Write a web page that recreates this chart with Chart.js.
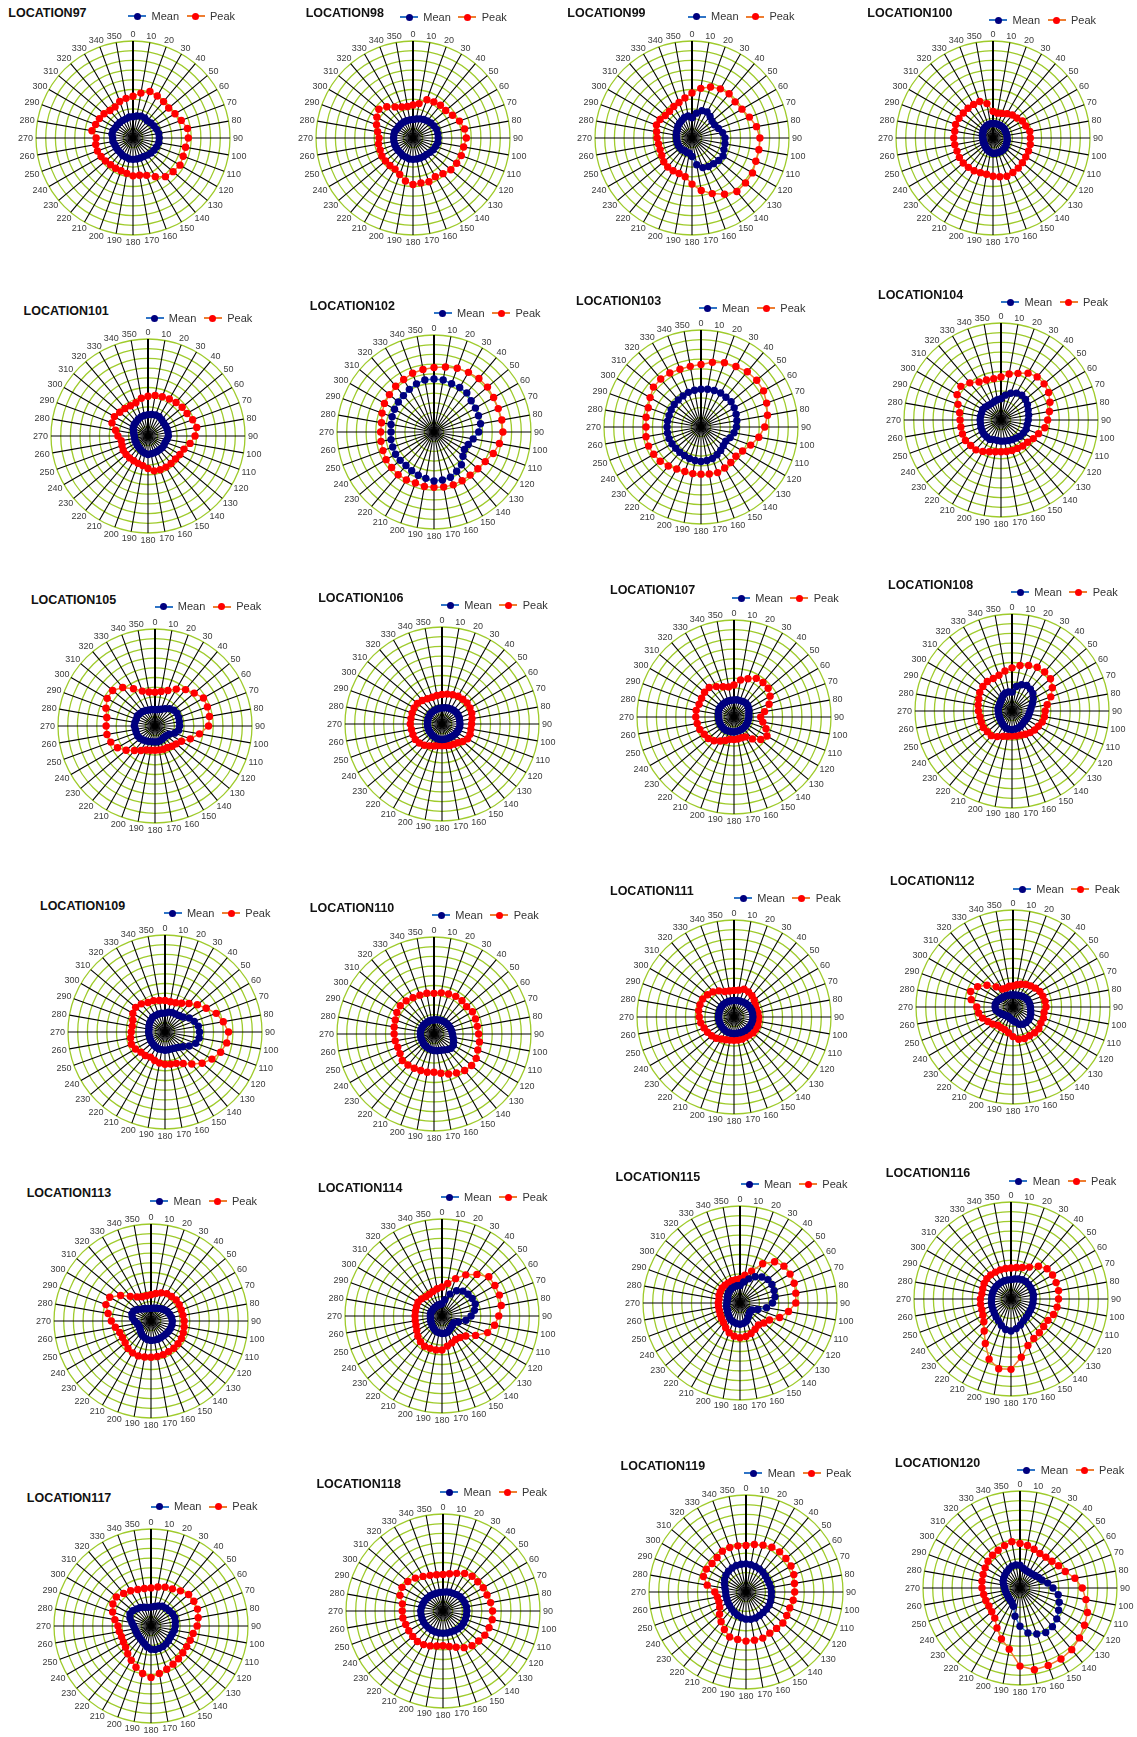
<!DOCTYPE html>
<html lang="en">
<head>
<meta charset="utf-8">
<title>Directional roses, LOCATION97 to LOCATION120</title>
<script src="https://cdn.jsdelivr.net/npm/chart.js@4.4.1/dist/chart.umd.min.js"></script>
<style>
  html, body { margin: 0; padding: 0; background: #ffffff; }
  body { position: relative; width: 1137px; height: 1737px; overflow: hidden;
         font-family: "Liberation Sans", Arial, sans-serif; }
  canvas.rose { position: absolute; }
  .title { position: absolute; font-weight: bold; font-size: 12.5px; line-height: 12.5px;
           color: #111; white-space: nowrap; }
  .legend { position: absolute; display: flex; align-items: center; font-size: 11px;
            line-height: 11px; color: #333; white-space: nowrap; }
  .legend .mk { position: relative; width: 18px; height: 7px; margin-right: 5.3px; }
  .legend .mk::before { content: ""; position: absolute; left: 0; right: 0; top: 2.5px;
                        height: 2px; background: var(--line); }
  .legend .mk::after { content: ""; position: absolute; left: 5.5px; top: 0; width: 7px;
                       height: 7px; border-radius: 50%; background: var(--dot); }
  .legend .gap { width: 7.6px; }
</style>
</head>
<body>
<script>
// Direction tick labels (degrees)
const directions = ['0','10','20','30','40','50','60','70','80','90','100','110','120','130','140','150','160','170',
                    '180','190','200','210','220','230','240','250','260','270','280','290','300','310','320','330','340','350'];

const locationNames = ['LOCATION97','LOCATION98','LOCATION99','LOCATION100','LOCATION101','LOCATION102',
                       'LOCATION103','LOCATION104','LOCATION105','LOCATION106','LOCATION107','LOCATION108',
                       'LOCATION109','LOCATION110','LOCATION111','LOCATION112','LOCATION113','LOCATION114',
                       'LOCATION115','LOCATION116','LOCATION117','LOCATION118','LOCATION119','LOCATION120'];

// Mean and peak values per direction, 0..350 degrees in 10 degree steps
const meanL97  = [2.2,2.3,2.4,2.4,2.3,2.4,2.5,2.6,2.7,2.7,2.7,2.6,2.5,2.4,2.3,2.2,2.2,2.2,2.2,2.2,2.1,2.1,2.0,2.0,2.0,2.0,2.1,2.1,2.2,2.2,2.1,2.1,2.1,2.1,2.1,2.2];
const peakL97  = [4.3,4.7,5.1,5.0,4.9,4.8,5.0,5.3,5.7,5.7,5.5,5.5,5.6,5.4,5.2,4.6,4.1,3.9,3.9,3.7,3.6,3.6,3.6,3.7,3.8,3.9,3.9,3.8,4.3,4.1,4.0,3.9,3.7,3.7,4.0,4.15];
const meanL98  = [1.9,2.0,2.1,2.2,2.3,2.4,2.5,2.6,2.6,2.6,2.6,2.5,2.4,2.3,2.2,2.2,2.2,2.2,2.2,2.2,2.1,2.1,2.0,2.0,2.0,2.0,2.0,2.0,2.0,2.0,1.9,1.9,1.9,1.9,1.9,1.9];
const peakL98  = [3.4,3.6,4.2,4.3,4.4,4.4,4.7,5.1,5.4,5.5,5.3,5.3,5.2,5.1,4.8,4.6,4.8,4.7,4.8,4.5,4.0,3.7,3.7,3.7,3.7,3.6,3.6,3.5,3.7,4.0,4.3,4.6,4.2,3.7,3.4,3.3];
const meanL99  = [2.1,2.6,3.0,3.1,2.9,2.7,2.7,2.9,3.2,3.4,3.45,3.5,3.7,3.6,3.45,3.4,3.25,2.8,1.9,1.6,1.6,1.5,1.6,1.6,1.6,1.6,1.6,1.6,1.65,1.7,1.75,1.9,2.0,2.1,2.25,2.3];
const peakL99  = [4.65,5.2,5.6,5.85,5.95,5.8,5.95,6.3,6.75,7.0,7.0,7.0,7.2,7.2,7.2,6.7,6.1,5.5,4.75,4.05,3.9,3.9,3.9,3.8,3.6,3.5,3.5,3.6,3.7,3.9,3.8,3.6,3.6,3.75,3.9,4.2];
const meanL100 = [1.5,1.5,1.5,1.5,1.5,1.5,1.45,1.45,1.45,1.45,1.5,1.5,1.55,1.6,1.6,1.6,1.6,1.6,1.6,1.5,1.4,1.3,1.2,1.1,1.1,1.05,1.05,1.05,1.1,1.15,1.2,1.3,1.35,1.4,1.45,1.5];
const peakL100 = [2.75,2.6,2.7,2.9,3.1,3.2,3.5,3.6,3.85,3.85,3.9,3.9,3.9,3.95,4.05,4.1,4.2,4.05,3.95,3.8,3.8,3.9,3.95,4.0,4.0,3.95,4.0,4.05,4.0,4.1,4.05,4.0,4.0,4.0,4.0,3.6];
const meanL101 = [2.2,2.25,2.3,2.3,2.2,2.1,2.1,2.1,2.1,2.1,2.0,1.9,1.9,1.9,1.85,1.85,1.85,1.85,1.9,1.8,1.7,1.6,1.5,1.45,1.4,1.4,1.4,1.4,1.5,1.6,1.75,1.85,1.9,2.0,2.1,2.15];
const peakL101 = [4.1,4.25,4.3,4.4,4.5,4.6,4.65,4.9,5.1,4.85,4.4,3.95,3.8,3.7,3.7,3.7,3.7,3.65,3.35,3.1,3.0,2.95,2.95,2.95,2.95,2.85,2.8,3.1,3.4,3.95,4.0,3.8,3.7,3.6,3.65,3.95];
const meanL102 = [5.46,5.45,5.3,5.3,5.26,5.0,4.93,4.88,4.87,4.61,4.1,3.76,3.62,3.9,4.4,4.67,4.96,5.02,5.05,4.85,4.74,4.6,4.5,4.55,4.58,4.53,4.5,4.43,4.5,4.6,4.7,4.8,4.9,5.08,5.28,5.45];
const peakL102 = [6.65,6.8,7.0,7.1,7.2,7.2,7.1,7.05,7.1,7.1,6.85,6.5,6.1,5.9,5.8,5.8,5.8,5.75,5.7,5.7,5.6,5.7,5.75,5.7,5.7,5.6,5.55,5.5,5.5,5.7,5.9,6.0,6.15,6.25,6.45,6.55];
const meanL103 = [3.9,3.95,4.0,4.05,4.0,4.05,3.95,3.85,3.75,3.65,3.45,3.2,2.95,3.0,3.15,3.3,3.45,3.5,3.55,3.5,3.45,3.4,3.4,3.4,3.45,3.5,3.5,3.5,3.5,3.5,3.55,3.6,3.65,3.7,3.8,3.85];
const peakL103 = [6.44,6.77,7.06,7.2,7.43,7.5,7.45,7.2,6.96,6.57,6.05,5.45,4.95,4.7,4.78,4.88,5.0,4.92,4.86,4.88,4.88,5.0,5.25,5.49,5.63,5.75,5.76,5.67,5.75,5.79,6.06,6.4,6.46,6.43,6.33,6.35];
const meanL104 = [2.2,2.6,2.93,3.2,3.33,3.3,3.15,2.98,2.9,2.81,2.74,2.76,2.68,2.6,2.43,2.34,2.26,2.2,2.18,2.15,2.15,2.31,2.29,2.29,2.25,2.2,2.15,2.15,2.15,2.13,2.18,2.1,1.98,1.95,2.03,2.12];
const peakL104 = [4.44,4.82,5.12,5.58,5.8,5.8,5.67,5.37,5.07,4.81,4.59,4.12,3.84,3.58,3.49,3.38,3.35,3.3,3.28,3.33,3.49,3.74,4.02,4.08,4.23,4.23,4.2,4.22,4.33,4.72,5.23,5.4,5.0,4.52,4.39,4.33];
const meanL105 = [1.68,1.72,1.84,2.06,2.33,2.54,2.62,2.6,2.55,2.54,2.47,2.16,1.69,1.54,1.5,1.54,1.6,1.65,1.64,1.65,1.71,1.79,1.89,2.0,2.05,2.05,2.05,2.13,2.1,2.05,2.1,2.02,1.95,1.86,1.75,1.72];
const peakL105 = [3.49,3.62,3.89,4.39,4.9,5.28,5.77,5.75,5.7,5.52,4.66,3.88,3.15,2.86,2.73,2.56,2.55,2.5,2.5,2.54,2.63,2.91,3.3,3.89,4.47,4.85,5.03,5.04,5.05,5.38,5.7,5.7,5.18,4.44,3.83,3.56];
const meanL106 = [1.65,1.7,1.75,1.8,1.85,1.9,1.9,1.9,1.85,1.85,1.85,1.8,1.75,1.7,1.65,1.6,1.6,1.6,1.6,1.6,1.6,1.55,1.55,1.5,1.5,1.5,1.5,1.5,1.5,1.55,1.55,1.6,1.6,1.6,1.62,1.65];
const peakL106 = [3.05,3.13,3.21,3.31,3.33,3.37,3.33,3.26,3.14,3.05,3.02,3.08,3.05,2.8,2.53,2.4,2.35,2.25,2.23,2.25,2.4,2.6,2.85,3.05,3.18,3.19,3.2,3.27,3.25,3.28,3.32,3.31,3.17,3.0,2.93,2.99];
const meanL107 = [1.75,1.8,1.8,1.85,1.9,1.85,1.75,1.65,1.55,1.55,1.5,1.5,1.5,1.5,1.5,1.5,1.5,1.5,1.55,1.55,1.55,1.6,1.6,1.6,1.6,1.6,1.6,1.6,1.65,1.7,1.75,1.75,1.75,1.75,1.75,1.75];
const peakL107 = [3.3,3.88,4.2,4.6,4.65,4.6,4.3,3.85,3.2,2.75,3.02,3.51,3.93,3.6,2.95,2.37,2.27,2.3,2.33,2.33,2.58,2.85,3.2,3.46,3.55,3.75,3.85,3.94,3.96,3.83,3.86,3.96,3.98,3.62,3.32,3.15];
const meanL108 = [1.95,2.57,2.88,3.03,2.95,2.81,2.53,2.25,2.0,1.86,1.78,1.75,1.68,1.66,1.72,1.79,1.87,1.88,1.92,1.9,1.87,1.72,1.63,1.51,1.45,1.42,1.4,1.41,1.45,1.42,1.45,1.53,1.65,1.85,1.98,2.0];
const peakL108 = [4.45,4.76,5.0,5.2,5.24,5.18,4.8,4.26,3.68,3.42,3.4,3.32,3.14,3.04,2.91,2.77,2.64,2.6,2.57,2.65,2.78,3.05,3.32,3.31,3.41,3.37,3.35,3.46,3.54,3.64,3.84,3.92,3.96,3.86,3.93,4.18];
const meanL109 = [1.95,2.08,2.14,2.15,2.22,2.4,2.88,3.21,3.49,3.56,3.58,3.37,2.88,2.36,2.08,1.93,1.87,1.86,1.88,1.84,1.87,1.82,1.77,1.74,1.71,1.68,1.67,1.69,1.67,1.76,1.83,1.9,1.98,1.96,1.98,1.96];
const peakL109 = [3.25,3.17,3.21,3.42,3.84,4.36,4.9,5.62,6.1,6.55,6.46,6.1,5.59,5.0,4.3,3.75,3.44,3.36,3.32,3.25,3.12,2.99,3.17,3.23,3.52,3.68,3.6,3.48,3.43,3.53,3.83,3.95,3.79,3.51,3.44,3.3];
const meanL110 = [1.45,1.5,1.55,1.6,1.65,1.7,1.75,1.8,1.85,1.9,2.0,2.15,2.3,2.3,2.1,1.9,1.8,1.75,1.7,1.65,1.6,1.55,1.5,1.45,1.4,1.4,1.4,1.4,1.4,1.4,1.4,1.4,1.4,1.4,1.42,1.45];
const peakL110 = [4.19,4.31,4.39,4.48,4.49,4.39,4.58,4.55,4.54,4.6,4.76,4.8,5.02,5.06,4.91,4.64,4.39,4.11,3.95,4.0,4.0,4.07,4.18,4.26,4.04,3.98,4.06,4.11,4.17,4.25,4.42,4.54,4.46,4.33,4.26,4.26];
const meanL111 = [1.7,1.72,1.75,1.8,1.85,1.9,1.92,1.95,1.95,1.95,1.95,1.92,1.9,1.85,1.8,1.75,1.72,1.7,1.7,1.7,1.7,1.68,1.65,1.62,1.6,1.6,1.6,1.6,1.6,1.62,1.65,1.68,1.7,1.7,1.7,1.7];
const peakL111 = [2.74,2.81,3.04,2.99,2.88,2.72,2.53,2.46,2.51,2.54,2.55,2.6,2.57,2.55,2.43,2.38,2.43,2.4,2.4,2.4,2.49,2.62,2.86,3.0,3.15,3.28,3.48,3.58,3.69,3.73,3.72,3.57,3.38,3.11,2.79,2.72];
const meanL112 = [1.25,1.25,1.3,1.35,1.45,1.55,1.65,1.7,1.75,1.8,1.85,1.95,2.05,2.1,2.1,2.05,1.9,1.6,1.4,1.25,1.15,1.1,1.15,1.25,1.4,1.6,1.8,1.85,1.85,1.75,1.6,1.5,1.4,1.35,1.3,1.25];
const peakL112 = [2.16,2.33,2.49,2.68,2.84,3.02,3.2,3.28,3.36,3.4,3.25,3.35,3.32,3.48,3.47,3.42,3.45,3.38,3.05,2.69,2.48,2.45,2.44,2.74,2.99,3.34,3.6,3.74,4.37,4.65,4.21,3.5,2.71,2.14,2.07,2.18];
const meanL113 = [1.3,1.35,1.4,1.5,1.65,1.8,1.95,2.05,2.15,2.2,2.2,2.15,2.1,2.05,2.0,2.0,2.0,2.0,2.0,1.95,1.85,1.75,1.6,1.45,1.35,1.35,1.45,1.7,1.95,2.1,2.05,1.85,1.6,1.45,1.35,1.3];
const peakL113 = [2.71,2.88,3.09,3.26,3.29,3.38,3.36,3.33,3.35,3.42,3.47,3.54,3.62,3.63,3.66,3.64,3.69,3.72,3.73,3.77,3.83,3.79,3.69,3.48,3.4,3.43,3.73,4.09,4.49,4.95,4.91,4.09,3.32,2.87,2.66,2.65];
const meanL114 = [1.26,1.7,2.4,3.0,3.35,3.5,3.6,3.65,3.4,3.0,2.5,1.8,1.4,1.39,1.5,1.6,1.75,1.8,1.81,1.76,1.7,1.58,1.46,1.37,1.3,1.25,1.2,1.2,1.2,1.2,1.15,1.15,1.15,1.15,1.2,1.2];
const peakL114 = [3.0,3.4,4.1,4.9,5.6,6.3,6.3,6.3,6.2,5.85,5.5,5.0,4.0,3.2,2.9,2.8,2.95,3.15,3.5,3.55,3.55,3.6,3.45,3.25,3.0,2.85,2.8,2.78,2.78,2.8,2.85,2.75,2.6,2.6,2.7,2.85];
const meanL115 = [1.81,2.2,2.65,3.12,3.5,3.75,3.8,3.74,3.66,3.35,2.78,1.95,1.44,1.34,1.47,1.69,1.97,2.13,2.19,2.15,2.05,1.97,1.77,1.63,1.5,1.45,1.4,1.34,1.36,1.34,1.47,1.57,1.65,1.73,1.77,1.8];
const peakL115 = [2.5,2.9,3.5,4.67,5.55,5.91,5.96,5.94,5.84,5.75,5.08,4.35,3.51,3.2,2.97,3.12,3.34,3.5,3.59,3.47,3.26,2.95,2.64,2.49,2.36,2.27,2.25,2.24,2.2,2.3,2.35,2.4,2.4,2.4,2.45,2.45];
const meanL116 = [2.0,2.1,2.2,2.3,2.35,2.35,2.35,2.35,2.35,2.3,2.3,2.3,2.3,2.35,2.45,2.6,2.85,3.1,3.3,3.2,2.9,2.6,2.4,2.25,2.15,2.1,2.05,2.0,2.0,2.0,2.0,2.0,2.0,2.0,2.0,2.0];
const peakL116 = [3.2,3.3,3.45,3.8,4.4,4.85,4.95,4.95,4.98,4.9,4.82,4.66,4.4,4.4,4.55,4.7,5.1,6.1,7.25,7.3,6.6,5.3,4.3,3.65,3.35,3.2,3.18,3.15,3.05,3.1,3.2,3.25,3.25,3.2,3.2,3.2];
const meanL117 = [1.95,2.05,2.2,2.35,2.4,2.45,2.55,2.6,2.55,2.5,2.45,2.35,2.3,2.35,2.4,2.45,2.45,2.45,2.4,2.2,1.95,1.8,1.7,1.65,1.65,1.65,1.7,1.8,2.0,2.3,2.5,2.45,2.3,2.2,2.05,1.95];
const peakL117 = [3.93,4.09,4.27,4.42,4.73,5.06,5.1,5.1,4.94,4.75,4.41,4.3,4.25,4.28,4.41,4.54,4.75,4.96,5.3,4.97,4.52,4.07,3.73,3.42,3.29,3.23,3.32,3.4,3.78,4.21,4.54,4.67,4.39,4.19,4.0,3.93];
const meanL118 = [1.95,2.0,2.05,2.1,2.2,2.3,2.35,2.4,2.45,2.45,2.45,2.45,2.45,2.45,2.4,2.35,2.3,2.3,2.3,2.3,2.3,2.3,2.3,2.3,2.3,2.3,2.3,2.3,2.25,2.2,2.15,2.1,2.05,2.0,1.95,1.95];
const peakL118 = [3.76,3.9,4.13,4.46,4.67,4.68,4.79,4.83,4.98,5.11,5.15,5.05,4.98,4.8,4.66,4.36,3.98,3.71,3.59,3.66,3.83,4.0,4.1,4.07,4.07,4.09,4.2,4.2,4.25,4.72,4.88,4.74,4.43,4.12,3.91,3.8];
const meanL119 = [2.9,2.85,2.8,2.75,2.7,2.6,2.55,2.55,2.6,2.62,2.65,2.7,2.75,2.75,2.75,2.8,2.85,2.85,2.8,2.7,2.55,2.4,2.3,2.2,2.15,2.1,2.1,2.1,2.2,2.35,2.55,2.7,2.8,2.85,2.9,2.9];
const peakL119 = [4.79,4.97,5.14,5.33,5.4,5.37,5.36,5.25,5.07,5.02,4.94,4.8,4.85,4.96,4.9,4.9,5.06,5.04,5.06,4.96,4.93,4.46,3.99,3.56,3.13,2.97,3.0,3.22,4.06,4.67,4.72,4.57,4.64,4.86,4.89,4.83];
const meanL120 = [2.35,2.05,1.9,1.88,1.9,2.0,2.2,2.4,2.9,3.4,4.0,4.3,4.6,4.95,5.2,5.3,5.05,4.7,3.95,2.95,2.0,1.7,1.6,1.55,1.5,1.52,1.55,1.6,1.7,1.85,1.95,2.05,2.15,2.27,2.4,2.4];
const peakL120 = [4.6,4.45,4.25,4.1,4.15,4.3,4.6,4.97,5.75,6.42,6.9,7.4,7.68,8.0,8.3,8.45,8.5,8.55,8.05,6.4,5.6,4.75,4.05,3.8,3.7,3.75,3.8,3.92,3.98,4.05,4.15,4.3,4.4,4.5,4.65,4.85];

const meanSeries = [meanL97, meanL98, meanL99, meanL100, meanL101, meanL102, meanL103, meanL104,
                    meanL105, meanL106, meanL107, meanL108, meanL109, meanL110, meanL111, meanL112,
                    meanL113, meanL114, meanL115, meanL116, meanL117, meanL118, meanL119, meanL120];
const peakSeries = [peakL97, peakL98, peakL99, peakL100, peakL101, peakL102, peakL103, peakL104,
                    peakL105, peakL106, peakL107, peakL108, peakL109, peakL110, peakL111, peakL112,
                    peakL113, peakL114, peakL115, peakL116, peakL117, peakL118, peakL119, peakL120];

// Page layout: rose centre, title (left, middle) and legend (left, middle) per panel, in px
const panelLayout = [
  [133.3, 138.3,   8.3,   13.3,  128.3,   16.3],
  [412.7, 138.3, 305.7,   13.3,  400.0,   17.3],
  [692.3, 138.3, 567.3,   13.0,  687.7,   16.7],
  [992.7, 138.3, 867.3,   12.7,  989.3,   20.0],
  [148.0, 435.5,  23.6,  310.7,  145.5,  318.3],
  [433.5, 432.0, 309.8,  305.7,  433.8,  313.3],
  [700.5, 426.7, 576.0,  300.7,  698.6,  308.0],
  [1001.0, 420.3, 878.0, 295.0, 1001.3,  302.3],
  [155.3, 726.3,  30.9,  600.0,  154.5,  606.7],
  [442.0, 723.8, 318.2,  597.7,  441.0,  605.0],
  [734.3, 717.3, 610.0,  590.0,  732.0,  598.0],
  [1011.5, 711.0, 888.0, 585.0, 1011.0,  592.3],
  [164.8, 1032.3, 40.0,  905.7,  163.6,  913.3],
  [433.8, 1033.7, 309.8, 907.7,  432.0,  915.0],
  [734.3, 1016.8, 610.0, 890.7,  734.0,  898.3],
  [1012.8, 1007.3, 890.0, 880.7, 1013.0, 889.0],
  [150.5, 1320.5, 26.7, 1192.7,  150.3, 1201.0],
  [442.2, 1316.0, 318.0, 1188.3, 440.8, 1197.3],
  [740.0, 1303.3, 615.6, 1176.7, 740.6, 1184.0],
  [1010.5, 1298.8, 885.8, 1172.7, 1009.4, 1181.0],
  [150.8, 1626.0, 26.8, 1498.3,  150.6, 1506.7],
  [442.6, 1611.0, 316.4, 1484.3, 440.3, 1492.3],
  [745.5, 1591.7, 620.6, 1465.7, 744.4, 1473.3],
  [1019.5, 1588.3, 895.0, 1463.3, 1017.4, 1470.0]
];

const RING_RADIUS = 97;                 // radius of the outermost ring
const SIDE = 2 * (RING_RADIUS + 32);    // canvas side, leaves room for direction labels

const MEAN_STYLE = { line: '#2f74c6', dot: '#00007f' };
const PEAK_STYLE = { line: '#ee7d31', dot: '#ff0000' };

// Direction labels placed just outside the outer ring, pushed outward by half their size
const directionLabels = {
  id: 'directionLabels',
  afterDraw(chart) {
    const r = chart.scales.r;
    const ctx = chart.ctx;
    ctx.save();
    ctx.font = '9px "Liberation Sans", Arial, sans-serif';
    ctx.fillStyle = '#3b3b3b';
    ctx.textAlign = 'center';
    ctx.textBaseline = 'middle';
    chart.data.labels.forEach((label, i) => {
      const a = r.getIndexAngle(i);
      const p = r.getPointPosition(i, r.drawingArea + 3);
      const w = ctx.measureText(label).width;
      ctx.fillText(label, p.x + Math.sin(a) * w / 2, p.y - Math.cos(a) * 4 + 0.5);
    });
    ctx.restore();
  }
};

function addLegend(left, middle, datasets) {
  const box = document.createElement('div');
  box.className = 'legend';
  box.style.left = left + 'px';
  box.style.top = (middle - 5.5) + 'px';
  datasets.forEach((ds, k) => {
    if (k > 0) {
      const gap = document.createElement('span');
      gap.className = 'gap';
      box.appendChild(gap);
    }
    const mk = document.createElement('span');
    mk.className = 'mk';
    mk.style.setProperty('--line', ds.borderColor);
    mk.style.setProperty('--dot', ds.pointBackgroundColor);
    box.appendChild(mk);
    const txt = document.createElement('span');
    txt.textContent = ds.label;
    box.appendChild(txt);
  });
  document.body.appendChild(box);
}

locationNames.forEach((name, idx) => {
  const [cx, cy, tx, ty, lx, ly] = panelLayout[idx];

  const title = document.createElement('div');
  title.className = 'title';
  title.textContent = name;
  title.style.left = tx + 'px';
  title.style.top = (ty - 6.2) + 'px';
  document.body.appendChild(title);

  const canvas = document.createElement('canvas');
  canvas.className = 'rose';
  canvas.width = SIDE;
  canvas.height = SIDE;
  canvas.style.width = SIDE + 'px';
  canvas.style.height = SIDE + 'px';
  canvas.style.left = (cx - SIDE / 2) + 'px';
  canvas.style.top = (cy - SIDE / 2) + 'px';
  document.body.appendChild(canvas);

  const datasets = [
    { label: 'Mean', data: meanSeries[idx], borderColor: MEAN_STYLE.line, borderWidth: 1.5,
      pointBackgroundColor: MEAN_STYLE.dot, pointBorderColor: MEAN_STYLE.dot,
      pointRadius: 3.7, pointBorderWidth: 0, fill: false },
    { label: 'Peak', data: peakSeries[idx], borderColor: PEAK_STYLE.line, borderWidth: 1.5,
      pointBackgroundColor: PEAK_STYLE.dot, pointBorderColor: PEAK_STYLE.dot,
      pointRadius: 3.7, pointBorderWidth: 0, fill: false }
  ];

  new Chart(canvas, {
    type: 'radar',
    data: { labels: directions, datasets },
    options: {
      responsive: false,
      animation: false,
      devicePixelRatio: 1,
      layout: { padding: 0 },
      elements: { line: { tension: 0 } },
      plugins: { legend: { display: false }, title: { display: false }, tooltip: { enabled: false } },
      scales: {
        r: {
          min: 0,
          max: 10,
          ticks: { display: false, stepSize: 1 },
          grid: { circular: true, color: '#9fcb2c', lineWidth: 1.3 },
          angleLines: { color: '#000000', lineWidth: (c) => (c.index === 0 ? 2 : 1.1) },
          pointLabels: { display: false },
          afterFit: (scale) => {
            scale.xCenter = SIDE / 2;
            scale.yCenter = SIDE / 2;
            scale.drawingArea = RING_RADIUS;
          }
        }
      }
    },
    plugins: [directionLabels]
  });

  addLegend(lx, ly, datasets);
});
</script>
</body>
</html>
